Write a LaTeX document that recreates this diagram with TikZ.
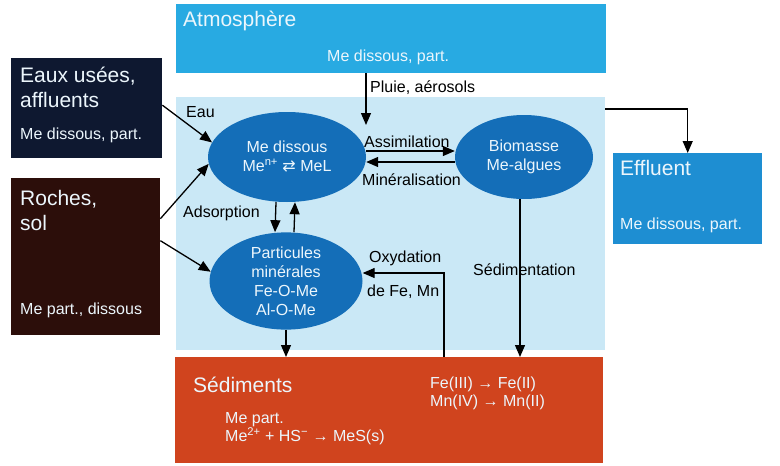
\documentclass[tikz,border=0pt]{standalone}
\usepackage{fontspec}
\setmainfont{Liberation Sans}
\newfontfamily\arrfont{DejaVu Sans}
\usetikzlibrary{positioning,arrows.meta,calc,shapes.geometric}
\definecolor{cAtm}{RGB}{40,170,226}
\definecolor{cEff}{RGB}{30,142,210}
\definecolor{cWater}{RGB}{202,232,246}
\definecolor{cEll}{RGB}{20,110,184}
\definecolor{cSed}{RGB}{208,68,30}
\definecolor{cEaux}{RGB}{14,24,48}
\definecolor{cRoc}{RGB}{44,14,10}
\definecolor{cTxt}{RGB}{236,246,252}
\newcommand{\bodytxt}{\fontsize{16}{19}\selectfont}
\newcommand{\ttltxt}{\fontsize{21}{25}\selectfont}
\tikzset{
  zone/.style={rectangle, inner sep=0pt, anchor=north west},
  pool/.style={ellipse, fill=cEll, text=cTxt, align=center, inner sep=0pt,
               font=\bodytxt},
  ttl/.style={anchor=west, inner sep=0pt, text=cTxt, align=left, font=\ttltxt},
  sub/.style={anchor=west, inner sep=0pt, text=cTxt, align=left, font=\bodytxt},
  lbl/.style={anchor=west, inner sep=0pt, font=\bodytxt},
  flow/.style={-{Triangle[length=12pt,width=10pt]}, line width=1.3pt},
}
\newcommand{\Zone}[6][]{%
  \node[zone, fill=#3, minimum width=#5, minimum height=#6, #1] (#2) at (#4) {};}

\begin{document}
\begin{tikzpicture}[x=1pt, y=-1pt]
  \fill[white] (0,0) rectangle (780,466);
  \useasboundingbox (0,0) rectangle (780,466);
  \Zone{atm}{cAtm}{176,4}{430}{69}
  \Zone{water}{cWater}{176,97}{429}{253}
  \Zone{eaux}{cEaux}{11,58}{151}{100}
  \Zone{roc}{cRoc}{11,178}{149}{157}
  \Zone{eff}{cEff}{613,153}{149}{91}
  \Zone{sed}{cSed}{175,357}{428}{106}
  \node[pool, minimum width=158, minimum height=90] (dis) at (287,157)
    {Me dissous\\Me\textsuperscript{n+} {\arrfont ⇄} MeL};
  \node[pool, minimum width=138, minimum height=84] (bio) at (524,157)
    {Biomasse\\Me-algues};
  \node[pool, minimum width=153, minimum height=97] (part) at (286,281)
    {Particules\\minérales\\Fe-O-Me\\Al-O-Me};
  \node[ttl] (atmT) at (183,21) {Atmosphère};
  \node[sub] (atmS) at (327,57) {Me dissous, part.};
  \node[ttl] (eauxT) at (20,87) {Eaux usées,\\affluents};
  \node[sub] (eauxS) at (20,135) {Me dissous, part.};
  \node[ttl] (rocT) at (20,210) {Roches,\\sol};
  \node[sub] (rocS) at (20,310) {Me part., dissous};
  \node[ttl] (effT) at (620,168) {Effluent};
  \node[sub] (effS) at (620,225) {Me dissous, part.};
  \node[ttl] (sedT) at (193,385) {Sédiments};
  \node[sub, font=\fontsize{16}{18}\selectfont] (sedS) at (225,429)
    {Me part.\\Me\textsuperscript{2+} + HS\textsuperscript{−} → MeS(s)};
  \node[sub, font=\fontsize{16}{18}\selectfont] (redox) at (430,393)
    {Fe(III) → Fe(II)\\Mn(IV) → Mn(II)};
  \node[lbl] (pluieL) at (370,88) {Pluie, aérosols};
  \node[lbl] (eauL) at (186,112) {Eau};
  \node[lbl] (assL) at (364,142) {Assimilation};
  \node[lbl] (minL) at (362,180) {Minéralisation};
  \node[lbl] (adsL) at (183,213) {Adsorption};
  \node[lbl] (oxL) at (369,258) {Oxydation};
  \node[lbl] (oxL2) at (367,292) {de Fe, Mn};
  \node[lbl] (sedL) at (473,270) {Sédimentation};
  \coordinate (rain) at (366,125);
  \coordinate (ox) at (444,273);
  \draw[flow] (atm.south -| rain) -- (rain);
  \draw[flow] ([yshift=3pt]eaux.east) -- (dis.169);
  \draw[flow] ([yshift=38pt]roc.east) -- (dis.185);
  \draw[flow] ([yshift=16pt]roc.east) -- (part.173);
  \draw[flow] ([yshift=6pt]dis.east) -- ([yshift=6pt]bio.west);
  \draw[flow] ([yshift=-5pt]bio.west) -- ([yshift=-5pt]dis.east);
  \draw[flow] ([xshift=-11pt]dis.south) -- ([xshift=-11pt]part.north);
  \draw[flow] ([xshift=8pt]part.north) -- ([xshift=8pt]dis.south);
  \draw[flow] (part.south) -- (part.south |- sed.north);
  \draw[flow] (sed.north -| ox) -- (ox) -- (ox -| part.east);
  \draw[flow] ([xshift=-4pt]bio.south) -- ([xshift=-4pt]bio.south |- sed.north);
  \draw[flow] ([yshift=-12pt]water.north east) -| (eff.north);
\end{tikzpicture}
\end{document}
